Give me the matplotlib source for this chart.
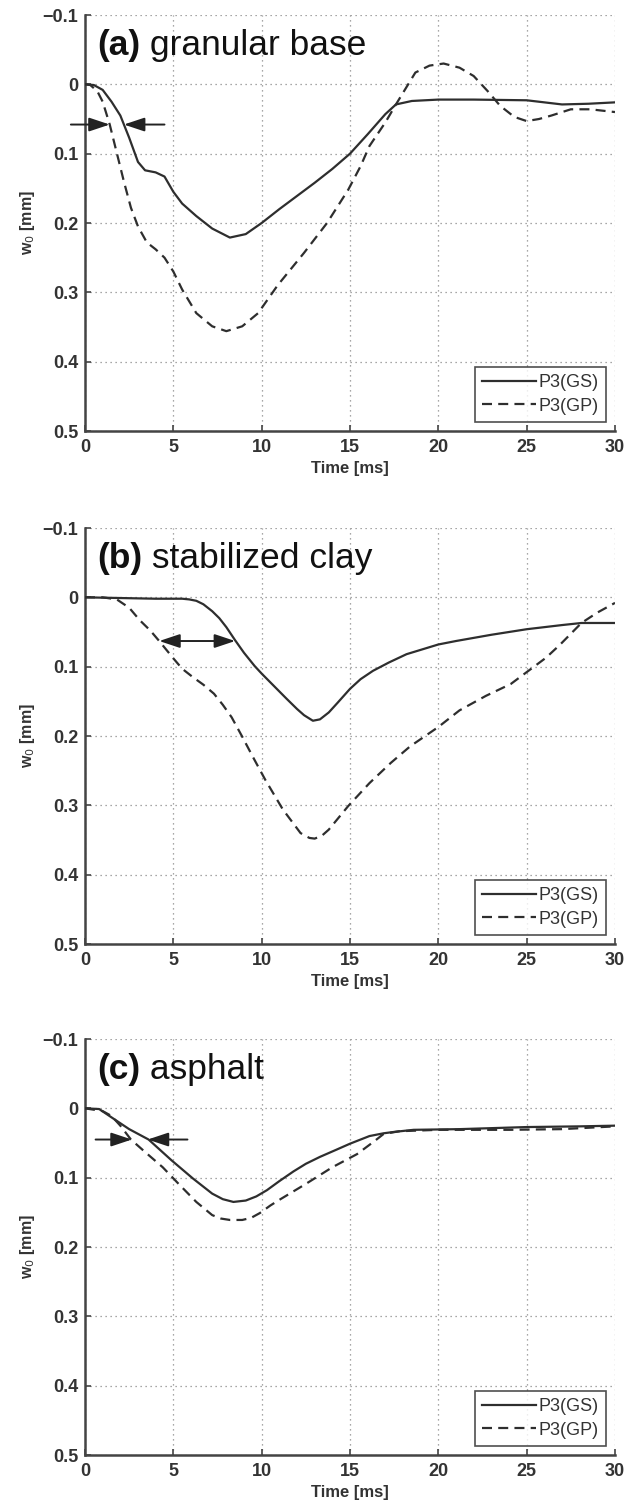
import numpy as np
import matplotlib as mpl
mpl.use("Agg")
from matplotlib import pyplot as plt

# ---- data (time in ms, deflection w0 in mm) ----
t_a_gs = [0, 0.5, 1.0, 1.5, 2.0, 2.5, 3.0, 3.4, 4.0, 4.5, 5.0, 5.5, 6.3, 7.2, 8.2, 9.1,
          10, 11, 12, 13, 14, 15, 16, 17, 17.6, 18.5, 20, 22, 25, 27, 28.5, 30]
w_a_gs = [0, 0.001, 0.008, 0.025, 0.045, 0.077, 0.112, 0.124, 0.127, 0.133, 0.155, 0.172,
          0.19, 0.208, 0.221, 0.216, 0.2, 0.18, 0.161, 0.142, 0.122, 0.1, 0.072, 0.043,
          0.029, 0.024, 0.022, 0.022, 0.023, 0.029, 0.028, 0.026]
t_a_gp = [0, 0.3, 0.7, 1.0, 1.4, 1.8, 2.2, 2.6, 3.0, 3.5, 4.0, 4.5, 5.0, 5.5, 6.3, 7.2,
          8.0, 8.9, 9.8, 10.9, 12.4, 13.7, 14.9, 15.6, 16.1, 17.0, 17.6, 18.7, 19.5, 20.3,
          21.2, 22.0, 22.8, 23.5, 24.3, 25.0, 25.7, 26.4, 27.5, 28.6, 30]
w_a_gp = [0, 0.001, 0.01, 0.025, 0.058, 0.099, 0.14, 0.178, 0.205, 0.228, 0.238, 0.25,
          0.27, 0.296, 0.33, 0.349, 0.356, 0.349, 0.33, 0.29, 0.243, 0.2, 0.152, 0.118,
          0.089, 0.055, 0.029, -0.017, -0.027, -0.03, -0.024, -0.012, 0.01, 0.031, 0.047,
          0.053, 0.05, 0.045, 0.036, 0.036, 0.04]

t_b_gs = [0, 2, 4, 5.5, 5.9, 6.3, 6.7, 7.2, 7.6, 8.0, 8.5, 9.0, 9.6, 10.0, 10.7, 11.4,
          12.0, 12.4, 12.9, 13.3, 13.8, 14.3, 15.0, 15.6, 16.3, 17.2, 18.2, 20.0, 21.0,
          23.0, 25.0, 27.0, 28.1, 30]
w_b_gs = [0, 0.001, 0.002, 0.002, 0.003, 0.005, 0.01, 0.02, 0.03, 0.043, 0.062, 0.08,
          0.099, 0.11, 0.128, 0.146, 0.161, 0.17, 0.178, 0.176, 0.166, 0.152, 0.132,
          0.118, 0.106, 0.094, 0.082, 0.068, 0.063, 0.054, 0.046, 0.04, 0.037, 0.037]
t_b_gp = [0, 1.0, 1.8, 2.5, 3.1, 3.7, 4.2, 5.0, 5.5, 6.1, 6.7, 7.3, 7.8, 8.3, 8.9, 9.5,
          10.2, 11.2, 12.2, 12.7, 13.0, 13.4, 13.8, 14.9, 16.1, 17.3, 18.4, 20.0, 21.2,
          22.7, 24.1, 25.1, 26.1, 26.9, 28.1, 29.0, 30]
w_b_gp = [0, 0.0, 0.003, 0.015, 0.033, 0.048, 0.063, 0.088, 0.103, 0.115, 0.126, 0.139,
          0.155, 0.173, 0.201, 0.23, 0.263, 0.306, 0.34, 0.347, 0.348, 0.344, 0.335,
          0.301, 0.268, 0.239, 0.215, 0.187, 0.163, 0.142, 0.125, 0.106, 0.087, 0.068,
          0.037, 0.022, 0.008]

t_c_gs = [0, 0.8, 1.5, 2.5, 3.6, 4.9, 6.1, 7.2, 7.8, 8.4, 9.1, 9.7, 10.3, 11.0, 11.8,
          12.5, 13.3, 14.2, 15.0, 16.1, 16.9, 17.5, 18.6, 21.2, 25, 28, 30]
w_c_gs = [0, 0.001, 0.013, 0.03, 0.045, 0.075, 0.101, 0.123, 0.131, 0.135, 0.133, 0.127,
          0.118, 0.105, 0.091, 0.08, 0.07, 0.06, 0.051, 0.04, 0.036, 0.034, 0.031, 0.03,
          0.027, 0.026, 0.025]
t_c_gp = [0, 1.0, 1.5, 2.0, 2.6, 3.4, 4.4, 5.3, 6.3, 7.2, 7.7, 8.2, 8.9, 9.4, 9.9, 10.5,
          11.0, 12.5, 14.0, 15.4, 16.4, 16.9, 17.8, 20, 22, 24, 27, 30]
w_c_gp = [0, 0.004, 0.011, 0.025, 0.045, 0.063, 0.085, 0.109, 0.135, 0.154, 0.159, 0.161,
          0.161, 0.158, 0.151, 0.14, 0.132, 0.109, 0.085, 0.066, 0.047, 0.037, 0.033,
          0.031, 0.031, 0.031, 0.03, 0.026]

panel_tags   = ['(a)', '(b)', '(c)']
panel_names  = [' granular base', ' stabilized clay', ' asphalt']
legend_names = ['P3(GS)', 'P3(GP)']

x_ticks      = [0, 5, 10, 15, 20, 25, 30]
y_ticks      = [-0.1, 0, 0.1, 0.2, 0.3, 0.4, 0.5]
y_ticklabels = ['\u22120.1', '0', '0.1', '0.2', '0.3', '0.4', '0.5']

# arrows: (tail_t, head_t, w) ; panel b is a double arrow
arrows_a = [(-0.8, 1.4, 0.058), (4.5, 2.2, 0.058)]
arrows_b = [(4.2, 8.5, 0.063)]
arrows_c = [(0.6, 2.65, 0.045), (5.8, 3.55, 0.045)]

series = [(t_a_gs, w_a_gs, t_a_gp, w_a_gp),
          (t_b_gs, w_b_gs, t_b_gp, w_b_gp),
          (t_c_gs, w_c_gs, t_c_gp, w_c_gp)]
arrow_sets = [arrows_a, arrows_b, arrows_c]

# ---- layout (pixels of a 625x1503 canvas) ----
W, H = 625., 1503.
ax_left, ax_right = 85, 615
ax_tops    = [15, 528, 1039]
ax_bottoms = [431, 944, 1455]

line_col = '#2e2e2e'
ink      = '#333333'
font     = 'Liberation Sans'

fig = plt.figure(figsize=(W/100., H/100.), dpi=100)

for i in range(3):
    rect = [ax_left/W, 1-ax_bottoms[i]/H, (ax_right-ax_left)/W,
            (ax_bottoms[i]-ax_tops[i])/H]
    ax = fig.add_axes(rect)
    t_gs, w_gs, t_gp, w_gp = series[i]

    ax.plot(t_gs, w_gs, color=line_col, lw=1.6, label=legend_names[0],
            solid_joinstyle='round', zorder=3)
    ax.plot(t_gp, w_gp, color=line_col, lw=1.6, ls=(0, (4.5, 2.8)),
            label=legend_names[1], zorder=3)

    ax.set_xlim(0, 30)
    ax.set_ylim(0.5, -0.1)
    ax.set_xticks(x_ticks)
    ax.set_yticks(y_ticks)
    ax.set_yticklabels(y_ticklabels)

    ax.grid(True, color='#8a8a8a', lw=0.9, ls=(0, (1, 3)))
    for side in ['top', 'right']:
        ax.spines[side].set_visible(False)
    for side in ['left', 'bottom']:
        ax.spines[side].set_color('#444444')
        ax.spines[side].set_linewidth(1.8)
    ax.tick_params(direction='in', length=4, width=1.2, color='#444444',
                   labelsize=13, labelcolor=ink)
    ax.tick_params(axis='x', pad=6)
    ax.tick_params(axis='y', pad=5)
    for lbl in ax.get_xticklabels() + ax.get_yticklabels():
        lbl.set_fontweight('bold')
        lbl.set_family(font)

    ax.set_xlabel('Time [ms]', fontsize=12, color=ink, fontweight='bold',
                  family=font, labelpad=3)
    ax.set_ylabel('w$_0$ [mm]', fontsize=11.5, color=ink, fontweight='bold',
                  family=font, labelpad=4)

    # panel heading
    tag = ax.text(0.7, -0.043, panel_tags[i], fontsize=25.5, fontweight='bold',
                  color='#111111', family=font, va='baseline')
    ax.annotate(panel_names[i], xy=(1, 0), xycoords=tag, va='bottom',
                fontsize=25.5, color='#111111', family=font)

    # arrows
    for tail, head, w in arrow_sets[i]:
        style = '<|-|>' if i == 1 else '-|>'
        ax.annotate('', xy=(head, w), xytext=(tail, w), annotation_clip=False,
                    arrowprops=dict(arrowstyle=style + ',head_length=0.9,head_width=0.3',
                                    color='#222222', lw=1.4, shrinkA=0, shrinkB=0,
                                    mutation_scale=14))

    leg = ax.legend(loc='lower right', frameon=True, fancybox=False,
                    edgecolor='#222222', handlelength=3.0, handletextpad=0.15,
                    borderpad=0.4, labelspacing=0.35, borderaxespad=0.5,
                    prop={'family': font, 'size': 13})
    leg.get_frame().set_linewidth(1.2)
    for txt in leg.get_texts():
        txt.set_color(ink)

fig.savefig('out.png', dpi=100)
